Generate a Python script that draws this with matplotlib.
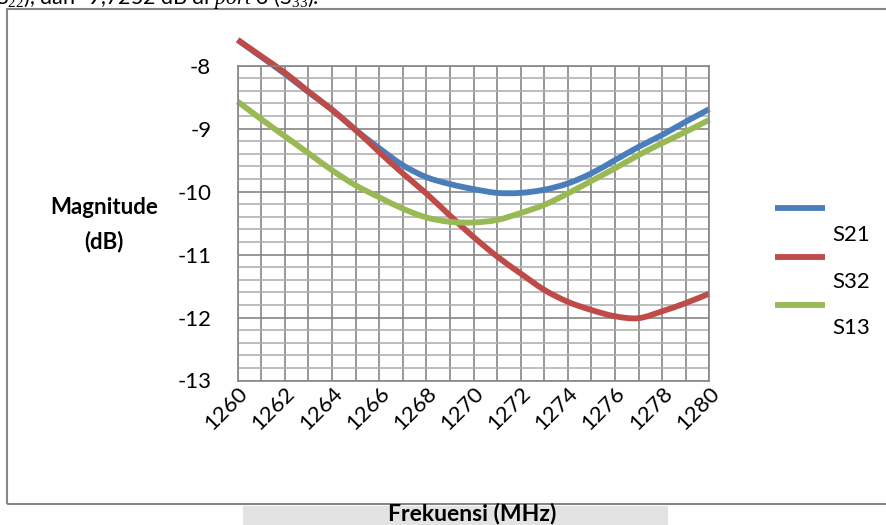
import matplotlib.pyplot as plt
from matplotlib.patches import Rectangle, PathPatch
from matplotlib.lines import Line2D
from matplotlib.path import Path
from matplotlib.ticker import MultipleLocator

plt.rcParams['font.family'] = ['Lato', 'DejaVu Sans']
plt.rcParams['mathtext.fontset'] = 'custom'
plt.rcParams['mathtext.rm'] = 'Liberation Serif'
plt.rcParams['mathtext.it'] = 'Liberation Serif:italic'

### data
freq = list(range(1260, 1281))
s21 = [-7.59, -7.86, -8.13, -8.42, -8.70, -9.02, -9.31, -9.58, -9.77, -9.88, -9.96,
       -10.02, -10.02, -9.97, -9.87, -9.71, -9.50, -9.29, -9.10, -8.89, -8.69]
s32 = [-7.59, -7.85, -8.11, -8.41, -8.70, -9.02, -9.37, -9.71, -10.03, -10.38, -10.72,
       -11.03, -11.30, -11.56, -11.75, -11.88, -11.98, -12.01, -11.90, -11.77, -11.62]
s13 = [-8.57, -8.85, -9.12, -9.39, -9.66, -9.90, -10.09, -10.27, -10.41, -10.48, -10.49,
       -10.45, -10.34, -10.21, -10.03, -9.83, -9.63, -9.42, -9.23, -9.05, -8.86]
names = ['S21', 'S32', 'S13']
colors = ['#4a7ebb', '#be4b48', '#98b954']
xticks = list(range(1260, 1281, 2))

W, H = 886, 525
fig = plt.figure(figsize=(W / 100, H / 100), dpi=100)

def fx(px):
    return px / W

def fy(py):
    return 1 - py / H

# excel style "smoothed line": bezier through the points (catmull-rom handles)
def smooth_path(xs, ys):
    pts = list(zip(xs, ys))
    n = len(pts)
    verts = [pts[0]]
    codes = [Path.MOVETO]
    for i in range(n - 1):
        p0 = pts[max(i - 1, 0)]
        p1 = pts[i]
        p2 = pts[i + 1]
        p3 = pts[min(i + 2, n - 1)]
        c1 = (p1[0] + (p2[0] - p0[0]) / 6, p1[1] + (p2[1] - p0[1]) / 6)
        c2 = (p2[0] - (p3[0] - p1[0]) / 6, p2[1] - (p3[1] - p1[1]) / 6)
        verts += [c1, c2, p2]
        codes += [Path.CURVE4] * 3
    return Path(verts, codes)

# outer chart frame
fig.add_artist(Rectangle((fx(7), fy(504)), fx(890) - fx(7), fy(9) - fy(504),
                         transform=fig.transFigure, facecolor='none',
                         edgecolor='#868686', linewidth=1.5))

# cut-off line of body text above the chart
fig.text(fx(-4), fy(4), r"S$_{22}$), dan -9,7252 dB di $\mathit{port}$ 3 (S$_{33}$).",
         fontsize=15.5, ha='left', va='baseline')

ax = fig.add_axes([fx(237.7), fy(380.5), fx(709.3) - fx(237.7), fy(65.7) - fy(380.5)])
ax.set_xlim(1260, 1280)
ax.set_ylim(-13, -8)

ax.xaxis.set_major_locator(MultipleLocator(2))
ax.xaxis.set_minor_locator(MultipleLocator(1))
ax.yaxis.set_major_locator(MultipleLocator(1))
ax.yaxis.set_minor_locator(MultipleLocator(0.2))
ax.grid(which='minor', axis='y', color='#b2b2b2', linewidth=1.2)
ax.grid(which='major', axis='y', color='#868686', linewidth=1.2)
ax.grid(which='both', axis='x', color='#868686', linewidth=1.2)
ax.set_axisbelow(True)
for sp in ax.spines.values():
    sp.set_color('#868686')
    sp.set_linewidth(1.2)

ax.tick_params(which='both', length=0)
ax.tick_params(axis='y', pad=19, labelsize=16)
ax.set_yticks([-8, -9, -10, -11, -12, -13])
ax.set_yticklabels(['-8', '-9', '-10', '-11', '-12', '-13'])
ax.set_xticks(xticks)
ax.set_xticklabels([str(v) for v in xticks], rotation=45, ha='right',
                   va='top', rotation_mode='anchor', fontsize=16)
ax.tick_params(axis='x', pad=2)

for ys, c in zip([s21, s32, s13], colors):
    ax.add_patch(PathPatch(smooth_path(freq, ys), facecolor='none', edgecolor=c,
                           linewidth=4.2, clip_on=False, capstyle='butt'))

# axis titles
fig.text(fx(104), fy(207), 'Magnitude', fontsize=16, fontweight='bold',
         ha='center', va='center')
fig.text(fx(104), fy(242), '(dB)', fontsize=16, fontweight='bold',
         ha='center', va='center')
fig.add_artist(Rectangle((fx(243), 0), fx(668) - fx(243), fy(505.5),
                         transform=fig.transFigure, facecolor='#e3e3e3',
                         edgecolor='none'))
fig.text(fx(472), fy(513), 'Frekuensi (MHz)', fontsize=16.5, fontweight='bold',
         ha='center', va='center')

# legend drawn by hand: line on top, name below to the right
leg_line_y = [208, 257, 305]
leg_text_y = [235, 282, 328]
for name, c, ly, ty in zip(names, colors, leg_line_y, leg_text_y):
    fig.add_artist(Line2D([fx(775), fx(825)], [fy(ly), fy(ly)],
                          transform=fig.transFigure, color=c, linewidth=4.2,
                          solid_capstyle='butt'))
    fig.text(fx(832), fy(ty), name, fontsize=16, ha='left', va='center')

fig.savefig('out.png', dpi=100)
